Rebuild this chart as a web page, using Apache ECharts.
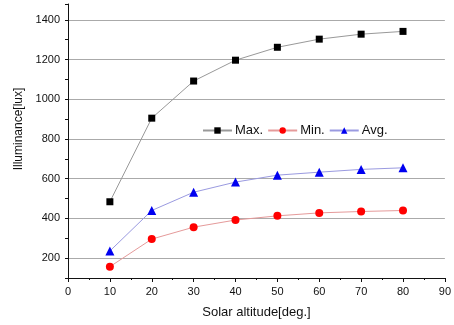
<!DOCTYPE html>
<html>
<head>
<meta charset="utf-8">
<script src="https://cdn.jsdelivr.net/npm/echarts@6/dist/echarts.min.js"></script>
<style>
  html, body { margin: 0; padding: 0; background: #fff; }
  #chart { width: 454px; height: 325px; }
</style>
</head>
<body>
<div id="chart"></div>
<script>
// solar altitude in degrees
const altitudes = [10, 20, 30, 40, 50, 60, 70, 80];
// illuminance [lux]
const maxValues = [484, 905, 1092, 1197, 1262, 1303, 1328, 1342];
const minValues = [157, 296, 356, 392, 413, 428, 435, 440];
const avgValues = [236, 440, 532, 583, 618, 633, 647, 655];
const yLabelValues = [200, 400, 600, 800, 1000, 1200, 1400];

const toPairs = (vals) => altitudes.map((a, i) => [a, vals[i]]);

const chart = echarts.init(document.getElementById('chart'));

const option = {
  animation: false,
  backgroundColor: '#fff',
  textStyle: { fontFamily: 'Liberation Sans, Arial, sans-serif' },
  grid: { left: 68, right: 8, top: 4, bottom: 47 },
  legend: {
    left: 197,
    top: 119,
    itemWidth: 29,
    itemHeight: 8,
    itemGap: 4,
    textStyle: { fontSize: 13, color: '#111', padding: [0, 0, 0, -2] },
    data: ['Max.', 'Min.', 'Avg.']
  },
  xAxis: {
    type: 'value',
    min: 0,
    max: 90,
    interval: 10,
    name: 'Solar altitude[deg.]',
    nameLocation: 'middle',
    nameGap: 28,
    nameTextStyle: { fontSize: 13, color: '#111' },
    axisLine: { show: true, onZero: false, lineStyle: { color: '#111', width: 1 } },
    axisTick: { show: true, inside: false, length: 4, lineStyle: { color: '#111' } },
    minorTick: { show: true, splitNumber: 2, length: 2, lineStyle: { color: '#111' } },
    axisLabel: { fontSize: 11, color: '#111', margin: 8 },
    splitLine: { show: false }
  },
  yAxis: {
    type: 'value',
    min: 100,
    max: 1480,
    interval: 100,
    name: 'Illuminance[lux]',
    nameLocation: 'middle',
    nameGap: 37,
    nameTextStyle: { fontSize: 12, color: '#111', padding: [0, 0, 0, 24] },
    axisLine: { show: true, onZero: false, lineStyle: { color: '#111', width: 1 } },
    axisTick: { show: true, inside: false, length: 3, lineStyle: { color: '#111' } },
    axisLabel: {
      fontSize: 11,
      color: '#111',
      margin: 8,
      formatter: (v) => (yLabelValues.includes(v) ? String(v) : '')
    },
    splitLine: {
      show: true,
      showMaxLine: false,
      lineStyle: { color: ['transparent', '#aaa'], width: 1 }
    }
  },
  series: [
    {
      name: 'Max.',
      type: 'line',
      data: toPairs(maxValues),
      symbol: 'rect',
      symbolSize: 7,
      itemStyle: { color: '#000' },
      lineStyle: { color: '#999', width: 1 }
    },
    {
      name: 'Min.',
      type: 'line',
      data: toPairs(minValues),
      symbol: 'circle',
      symbolSize: 8,
      itemStyle: { color: '#f00' },
      lineStyle: { color: '#e59a9a', width: 1 }
    },
    {
      name: 'Avg.',
      type: 'line',
      data: toPairs(avgValues),
      symbol: 'triangle',
      symbolSize: 9,
      itemStyle: { color: '#0000f0' },
      lineStyle: { color: '#9a9ae0', width: 1 }
    }
  ]
};

chart.setOption(option);
</script>
</body>
</html>
